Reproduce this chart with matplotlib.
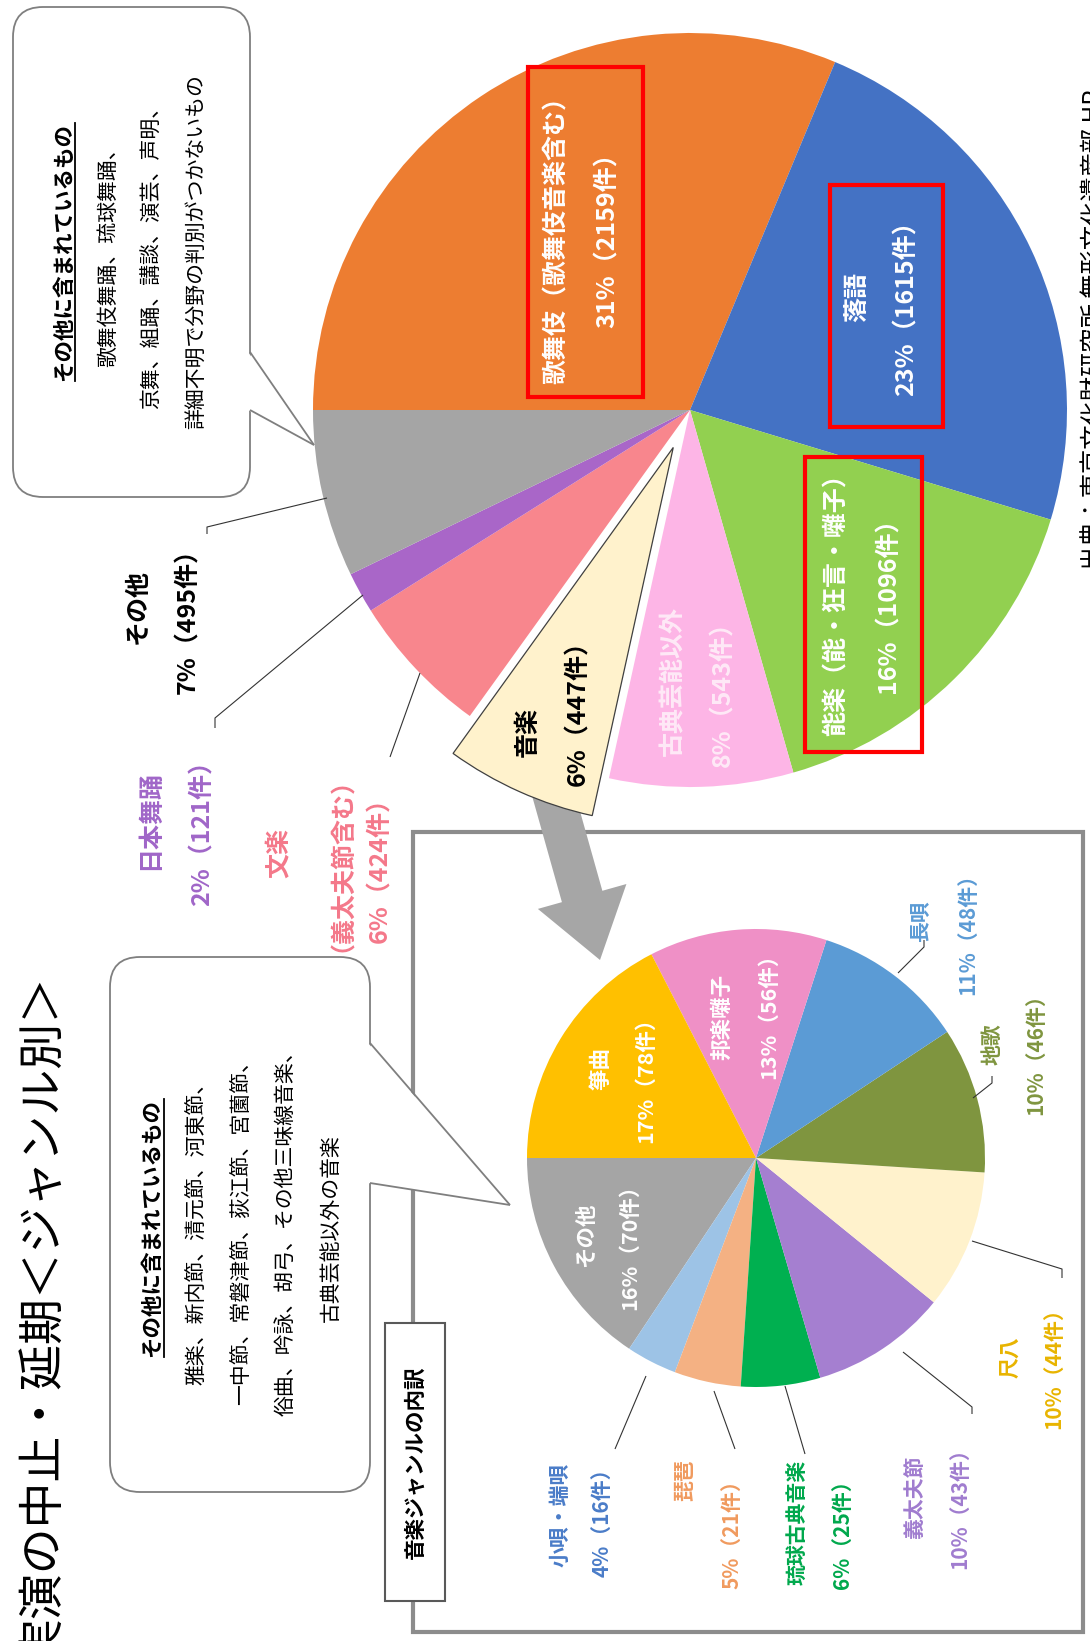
import matplotlib
matplotlib.use('Agg')
import matplotlib.pyplot as plt
from matplotlib.patches import Rectangle, FancyBboxPatch, Polygon
import numpy as np

plt.rcParams['font.family'] = ['Noto Sans CJK JP', 'DejaVu Sans']

W, H = 1090, 1641

# ---------------- data ----------------
genres = ['歌舞伎', '落語', '能楽', '古典芸能以外', '音楽', '文楽', '日本舞踊', 'その他']
genre_labels = ['歌舞伎（歌舞伎音楽含む）', '落語', '能楽（能・狂言・囃子）', '古典芸能以外',
                '音楽', '文楽', '日本舞踊', 'その他']
counts = [2159, 1615, 1096, 543, 447, 424, 121, 495]
colors = ['#ED7D31', '#4472C4', '#92D050', '#FDB5E6', '#FFF2CC', '#F8868D', '#A966C8', '#A5A5A5']

music_genres = ['その他', '小唄・端唄', '琵琶', '琉球古典音楽', '義太夫節', '尺八', '地歌', '長唄', '邦楽囃子', '箏曲']
music_counts = [70, 16, 21, 25, 43, 44, 46, 48, 56, 78]
music_colors = ['#A5A5A5', '#9DC3E6', '#F4B183', '#00B050', '#A57FD0', '#FFF2CC', '#7F953F',
                '#5B9BD5', '#EF90C6', '#FFC000']
music_text_colors = ['white', '#4A7CC8', '#F09A5E', '#00A84C', '#A07CCF', '#E8B400', '#7F953F',
                     '#5B9BD5', 'white', 'white']

other_note = ['歌舞伎舞踊、琉球舞踊、', '京舞、組踊、講談、演芸、声明、', '詳細不明で分野の判別がつかないもの']
music_other_note = ['雅楽、新内節、清元節、河東節、', '一中節、常磐津節、荻江節、宮薗節、',
                    '俗曲、吟詠、胡弓、その他三味線音楽、', '古典芸能以外の音楽']
title = '実演の中止・延期＜ジャンル別＞'
source = '出典：東京文化財研究所 無形文化遺産部 HP'

total = sum(counts)
pct = [round(c * 100 / total) for c in counts]
mtotal = sum(music_counts)
mpct = [round(c * 100 / mtotal) for c in music_counts]

def val(p, c):
    return f'{p}%（{c}件）'

# ---------------- figure ----------------
fig = plt.figure(figsize=(W / 100, H / 100), dpi=100)
ax = fig.add_axes([0, 0, 1, 1])

def T(x, y, s, size, color='black', weight='bold', z=5):
    return ax.text(x, H - y, s, rotation=90, ha='center', va='center', fontsize=size,
                   color=color, fontweight=weight, zorder=z)

def L(pts, color='#333333', lw=0.8, z=4):
    xs = [p[0] for p in pts]
    ys = [H - p[1] for p in pts]
    ax.plot(xs, ys, color=color, lw=lw, zorder=z, solid_capstyle='butt')

# frame for music breakdown
ax.add_patch(Rectangle((413, H - 1632), 670, 800, fill=False, ec='#8C8C8C', lw=3, zorder=0.3))

# arrow
S = np.array([548.0, 775.0]); Tp = np.array([600.0, 960.0])
d = (Tp - S) / np.linalg.norm(Tp - S)
n = np.array([-d[1], d[0]])
hl, hw, sw = 66, 92, 42
B = Tp - d * hl
arrow_pts = [S + n * sw / 2, B + n * sw / 2, B + n * hw / 2, Tp, B - n * hw / 2, B - n * sw / 2, S - n * sw / 2]
ax.add_patch(Polygon([(p[0], H - p[1]) for p in arrow_pts], closed=True, fc='#A6A6A6', ec='none', zorder=0.5))

# big pie
wedges, _ = ax.pie(counts, colors=colors, startangle=180, counterclock=False, radius=377,
                   center=(690, H - 410), explode=[0, 0, 0, 0, 41, 0, 0, 0],
                   wedgeprops=dict(linewidth=0), frame=False)
for w in wedges:
    w.set_zorder(1)
wedges[4].set_edgecolor('#404040')
wedges[4].set_linewidth(0.9)
wedges[4].set_zorder(2)

# small pie
mw, _ = ax.pie(music_counts, colors=music_colors, startangle=180, counterclock=True, radius=229,
               center=(756, H - 1158), wedgeprops=dict(linewidth=0), frame=False)
for w in mw:
    w.set_zorder(1)

# big pie internal labels
T(557, 234, genre_labels[0], 18, 'white'); T(608, 234, val(pct[0], counts[0]), 18, 'white')
T(857, 297, genre_labels[1], 18, 'white'); T(907, 302, val(pct[1], counts[1]), 18, 'white')
T(837, 599, genre_labels[2], 18, 'white'); T(888, 599, val(pct[2], counts[2]), 18, 'white')
T(673, 681, genre_labels[3], 18, '#FFE9F7'); T(723, 688, val(pct[3], counts[3]), 18, '#FFE9F7')
T(528, 732, genre_labels[4], 18, 'black'); T(578, 707, val(pct[4], counts[4]), 18, 'black')

for (x0, y0, x1, y1) in [(528, 67, 643, 397), (830, 185, 943, 427), (805, 457, 922, 752)]:
    ax.add_patch(Rectangle((x0, H - y1), x1 - x0, y1 - y0, fill=False, ec='#FF0000', lw=3, zorder=6))

# big pie external labels
T(138, 607, genre_labels[7], 18, 'black'); T(188, 615, val(pct[7], counts[7]), 18, 'black')
T(150, 820, genre_labels[6], 18, '#A066C8'); T(203, 827, val(pct[6], counts[6]), 18, '#A066C8')
T(280, 853, genre_labels[5], 18, '#F4788A'); T(330, 852, '（義太夫節含む）', 18, '#F4788A')
T(380, 864, val(pct[5], counts[5]), 18, '#F4788A')
L([(327, 498), (207, 527), (207, 534)])
L([(363, 595), (215, 718), (215, 728)])
L([(420, 673), (390, 757)])

# small pie internal labels
T(722, 1017, music_genres[8], 15.5, 'white'); T(769, 1011, val(mpct[8], music_counts[8]), 15.5, 'white')
T(601, 1069, music_genres[9], 15.5, 'white'); T(646, 1075, val(mpct[9], music_counts[9]), 15.5, 'white')
T(585, 1235, music_genres[0], 15.5, 'white'); T(630, 1242, val(mpct[0], music_counts[0]), 15.5, 'white')

# small pie external labels
ext = {7: ((921, 921), (968, 929)), 6: ((992, 1044), (1036, 1049)), 5: ((1010, 1357), (1054, 1363)),
       4: ((915, 1497), (960, 1503)), 3: ((798, 1522), (842, 1529)), 2: ((685, 1480), (732, 1529)),
       1: ((560, 1515), (602, 1517))}
for i, (p1, p2) in ext.items():
    T(p1[0], p1[1], music_genres[i], 15, music_text_colors[i])
    T(p2[0], p2[1], val(mpct[i], music_counts[i]), 15, music_text_colors[i])
L([(898, 973), (924, 947), (924, 940)])
L([(973, 1098), (992, 1083), (992, 1076)])
L([(972, 1241), (1062, 1269), (1062, 1278)])
L([(903, 1352), (972, 1407), (972, 1414)])
L([(785, 1386), (805, 1454)])
L([(714, 1391), (735, 1449)])
L([(646, 1376), (615, 1449)])

# callout boxes
def callout(x0, y0, x1, y1, base1, base2, tip, heading_x, xs, yc, heading, lines):
    ax.add_patch(FancyBboxPatch((x0, H - y1), x1 - x0, y1 - y0,
                                boxstyle='round,pad=0,rounding_size=30',
                                fc='white', ec='#7F7F7F', lw=1.3, zorder=3))
    ax.add_patch(Polygon([(base1[0] - 2, H - base1[1]), (tip[0], H - tip[1]), (base2[0] - 2, H - base2[1])],
                         closed=True, fc='white', ec='none', zorder=3.1))
    L([base1, tip], '#7F7F7F', 1.3, 3.2)
    L([base2, tip], '#7F7F7F', 1.3, 3.2)
    h = T(heading_x, yc, heading, 15.5, 'black', 'bold', 3.3)
    for x, s in zip(xs, lines):
        T(x, yc, s, 15, 'black', 'normal', 3.3)
    return h

h1 = callout(13, 7, 250, 497, (250, 352), (250, 410), (314, 445), 63, [108, 152, 196], 252,
             'その他に含まれているもの', other_note)
h2 = callout(110, 957, 370, 1492, (370, 1043), (370, 1183), (510, 1205), 152, [196, 241, 286, 331], 1228,
             'その他に含まれているもの', music_other_note)

# music label box
ax.add_patch(Rectangle((385, H - 1601), 60, 278, fc='white', ec='#595959', lw=1.5, zorder=3))
T(415, 1462, '音楽ジャンルの内訳', 15.5, 'black', 'bold', 3.3)

# title and source
T(43, 1318, title, 33, 'black', 'normal')
T(1095, 330, source, 17.5, 'black', 'normal')

ax.set_xlim(0, W)
ax.set_ylim(0, H)
ax.set_aspect('equal')
ax.axis('off')

# underline headings
fig.canvas.draw()
inv = ax.transData.inverted()
for h in (h1, h2):
    bb = h.get_window_extent().transformed(inv)
    ax.plot([bb.x1 + 1, bb.x1 + 1], [bb.y0, bb.y1], color='black', lw=1.3, zorder=3.4)

fig.savefig('out.png', dpi=100, facecolor='white')
